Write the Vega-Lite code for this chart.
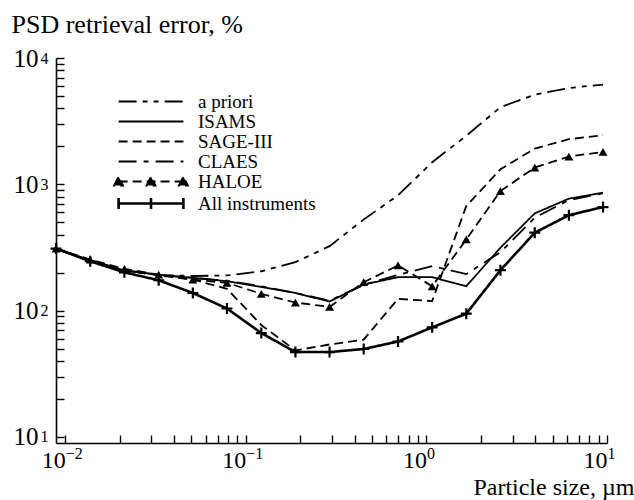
{
  "$schema": "https://vega.github.io/schema/vega-lite/v6.json",
  "width": 551,
  "height": 385,
  "autosize": "none",
  "padding": {"left": 56, "top": 58, "right": 27, "bottom": 57},
  "background": "white",
  "config": {
    "view": {"stroke": null},
    "font": "Liberation Serif",
    "axis": {
      "grid": false,
      "domainColor": "black",
      "domainWidth": 1.6,
      "tickColor": "black",
      "tickWidth": 1.4,
      "tickSize": -8,
      "labelFont": "Liberation Serif",
      "labelFontSize": 25,
      "labelColor": "black",
      "labelFlush": false,
      "labelOverlap": false,
      "titleFont": "Liberation Serif",
      "titleFontSize": 26,
      "titleFontWeight": "normal",
      "titleColor": "black"
    }
  },
  "resolve": {"axis": {"x": "independent", "y": "independent"}},
  "data": {
    "values": [
      {"series": "a priori", "x": 0.00891, "y": 310},
      {"series": "a priori", "x": 0.01377, "y": 250},
      {"series": "a priori", "x": 0.02128, "y": 210},
      {"series": "a priori", "x": 0.03296, "y": 192},
      {"series": "a priori", "x": 0.05093, "y": 188},
      {"series": "a priori", "x": 0.0787, "y": 190},
      {"series": "a priori", "x": 0.1219, "y": 205},
      {"series": "a priori", "x": 0.1884, "y": 242},
      {"series": "a priori", "x": 0.2911, "y": 324},
      {"series": "a priori", "x": 0.4498, "y": 527},
      {"series": "a priori", "x": 0.6966, "y": 818},
      {"series": "a priori", "x": 1.0765, "y": 1496},
      {"series": "a priori", "x": 1.663, "y": 2421},
      {"series": "a priori", "x": 2.57, "y": 4082},
      {"series": "a priori", "x": 3.981, "y": 5128},
      {"series": "a priori", "x": 6.152, "y": 5781},
      {"series": "a priori", "x": 9.506, "y": 6166},
      {"series": "ISAMS", "x": 0.00891, "y": 310},
      {"series": "ISAMS", "x": 0.01377, "y": 248},
      {"series": "ISAMS", "x": 0.02128, "y": 208},
      {"series": "ISAMS", "x": 0.03296, "y": 192},
      {"series": "ISAMS", "x": 0.05093, "y": 182},
      {"series": "ISAMS", "x": 0.0787, "y": 171},
      {"series": "ISAMS", "x": 0.1219, "y": 154},
      {"series": "ISAMS", "x": 0.1884, "y": 138},
      {"series": "ISAMS", "x": 0.2911, "y": 118},
      {"series": "ISAMS", "x": 0.4498, "y": 161},
      {"series": "ISAMS", "x": 0.6966, "y": 184},
      {"series": "ISAMS", "x": 1.0765, "y": 184},
      {"series": "ISAMS", "x": 1.663, "y": 156},
      {"series": "ISAMS", "x": 2.57, "y": 315},
      {"series": "ISAMS", "x": 3.981, "y": 589},
      {"series": "ISAMS", "x": 6.152, "y": 770},
      {"series": "ISAMS", "x": 9.506, "y": 859},
      {"series": "SAGE-III", "x": 0.00891, "y": 310},
      {"series": "SAGE-III", "x": 0.01377, "y": 250},
      {"series": "SAGE-III", "x": 0.02128, "y": 208},
      {"series": "SAGE-III", "x": 0.03296, "y": 190},
      {"series": "SAGE-III", "x": 0.05093, "y": 176},
      {"series": "SAGE-III", "x": 0.0787, "y": 149},
      {"series": "SAGE-III", "x": 0.1219, "y": 77},
      {"series": "SAGE-III", "x": 0.1884, "y": 48.4},
      {"series": "SAGE-III", "x": 0.2911, "y": 54},
      {"series": "SAGE-III", "x": 0.4498, "y": 59},
      {"series": "SAGE-III", "x": 0.6966, "y": 124},
      {"series": "SAGE-III", "x": 1.0765, "y": 119},
      {"series": "SAGE-III", "x": 1.663, "y": 673},
      {"series": "SAGE-III", "x": 2.57, "y": 1315},
      {"series": "SAGE-III", "x": 3.981, "y": 1919},
      {"series": "SAGE-III", "x": 6.152, "y": 2276},
      {"series": "SAGE-III", "x": 9.506, "y": 2449},
      {"series": "CLAES", "x": 0.00891, "y": 310},
      {"series": "CLAES", "x": 0.01377, "y": 248},
      {"series": "CLAES", "x": 0.02128, "y": 208},
      {"series": "CLAES", "x": 0.03296, "y": 192},
      {"series": "CLAES", "x": 0.05093, "y": 182},
      {"series": "CLAES", "x": 0.0787, "y": 172},
      {"series": "CLAES", "x": 0.1219, "y": 156},
      {"series": "CLAES", "x": 0.1884, "y": 138},
      {"series": "CLAES", "x": 0.2911, "y": 120},
      {"series": "CLAES", "x": 0.4498, "y": 160},
      {"series": "CLAES", "x": 0.6966, "y": 192},
      {"series": "CLAES", "x": 1.0765, "y": 225},
      {"series": "CLAES", "x": 1.663, "y": 195},
      {"series": "CLAES", "x": 2.57, "y": 290},
      {"series": "CLAES", "x": 3.981, "y": 545},
      {"series": "CLAES", "x": 6.152, "y": 750},
      {"series": "CLAES", "x": 9.506, "y": 850},
      {"series": "HALOE", "x": 0.00891, "y": 310},
      {"series": "HALOE", "x": 0.01377, "y": 254},
      {"series": "HALOE", "x": 0.02128, "y": 214},
      {"series": "HALOE", "x": 0.03296, "y": 193},
      {"series": "HALOE", "x": 0.05093, "y": 176},
      {"series": "HALOE", "x": 0.0787, "y": 166},
      {"series": "HALOE", "x": 0.1219, "y": 136},
      {"series": "HALOE", "x": 0.1884, "y": 116},
      {"series": "HALOE", "x": 0.2911, "y": 107},
      {"series": "HALOE", "x": 0.4498, "y": 168},
      {"series": "HALOE", "x": 0.6966, "y": 228},
      {"series": "HALOE", "x": 1.0765, "y": 156},
      {"series": "HALOE", "x": 1.663, "y": 366},
      {"series": "HALOE", "x": 2.57, "y": 885},
      {"series": "HALOE", "x": 3.981, "y": 1358},
      {"series": "HALOE", "x": 6.152, "y": 1660},
      {"series": "HALOE", "x": 9.506, "y": 1804},
      {"series": "All instruments", "x": 0.00891, "y": 310},
      {"series": "All instruments", "x": 0.01377, "y": 246},
      {"series": "All instruments", "x": 0.02128, "y": 201},
      {"series": "All instruments", "x": 0.03296, "y": 174},
      {"series": "All instruments", "x": 0.05093, "y": 138},
      {"series": "All instruments", "x": 0.0787, "y": 104},
      {"series": "All instruments", "x": 0.1219, "y": 66.5},
      {"series": "All instruments", "x": 0.1884, "y": 47},
      {"series": "All instruments", "x": 0.2911, "y": 47},
      {"series": "All instruments", "x": 0.4498, "y": 49.7},
      {"series": "All instruments", "x": 0.6966, "y": 57},
      {"series": "All instruments", "x": 1.0765, "y": 73.7},
      {"series": "All instruments", "x": 1.663, "y": 94.6},
      {"series": "All instruments", "x": 2.57, "y": 209},
      {"series": "All instruments", "x": 3.981, "y": 414},
      {"series": "All instruments", "x": 6.152, "y": 570},
      {"series": "All instruments", "x": 9.506, "y": 661}
    ]
  },
  "layer": [
    {
      "mark": {"type": "line", "color": "black"},
      "encoding": {
        "x": {
          "field": "x",
          "type": "quantitative",
          "scale": {"type": "log", "domain": [0.0089, 10], "nice": false},
          "axis": {
            "orient": "bottom",
            "title": "Particle size, µm",
            "titleFontSize": 24,
            "titleAngle": 0,
            "titleAlign": "right",
            "titleBaseline": "alphabetic",
            "titleX": 578,
            "titleY": 51,
            "labelPadding": 32,
            "labelBaseline": "alphabetic",
            "labelAlign": "right",
            "labelDx": 5,
            "labelFontSize": 24,
            "values": [0.01, 0.02, 0.03, 0.04, 0.05, 0.06, 0.07, 0.08, 0.09, 0.1, 0.2, 0.3, 0.4, 0.5, 0.6, 0.7, 0.8, 0.9, 1, 2, 3, 4, 5, 6, 7, 8, 9, 10],
            "labelExpr": "(datum.value == 0.01 || datum.value == 0.1 || datum.value == 1 || datum.value == 10) ? '10' : ''"
          }
        },
        "y": {
          "field": "y",
          "type": "quantitative",
          "scale": {"type": "log", "domain": [8.96, 10000], "nice": false},
          "axis": {
            "orient": "left",
            "title": "PSD retrieval error, %",
            "titleAngle": 0,
            "titleAlign": "left",
            "titleBaseline": "alphabetic",
            "titleX": -45,
            "titleY": -26,
            "labelPadding": 26,
            "labelBaseline": "middle",
            "labelAlign": "right",
            "values": [10, 20, 30, 40, 50, 60, 70, 80, 90, 100, 200, 300, 400, 500, 600, 700, 800, 900, 1000, 2000, 3000, 4000, 5000, 6000, 7000, 8000, 9000, 10000],
            "labelExpr": "(datum.value == 10 || datum.value == 100 || datum.value == 1000 || datum.value == 10000) ? '10' : ''"
          }
        },
        "detail": {"field": "series"},
        "strokeDash": {
          "field": "series",
          "type": "nominal",
          "scale": {
            "domain": ["a priori", "ISAMS", "SAGE-III", "CLAES", "HALOE", "All instruments"],
            "range": [[18, 6, 5, 6, 5, 6], [1, 0], [9, 5], [18, 7, 5, 7], [9, 5], [1, 0]]
          },
          "legend": {
            "title": null,
            "orient": "none",
            "legendX": 85.5,
            "legendY": 34,
            "padding": 0,
            "symbolSize": 324,
            "symbolStrokeColor": "black",
            "symbolStrokeWidth": 1.8,
            "symbolType": "M-3.6,0H3.6",
            "labelOffset": 37.5,
            "labelFont": "Liberation Serif",
            "labelFontSize": 19,
            "labelColor": "black",
            "labelLimit": 300,
            "rowPadding": 0,
            "encode": {
              "symbols": {
                "update": {
                  "shape": {"signal": "datum.value === 'HALOE' ? 'M-3.6,0H3.6M-4.1,0.45L-3.6,-0.55L-3.1,0.45ZM-0.5,0.45L0,-0.55L0.5,0.45ZM3.1,0.45L3.6,-0.55L4.1,0.45Z' : datum.value === 'All instruments' ? 'M-3.6,0H3.6M-3.6,-0.6V0.6M0,-0.6V0.6M3.6,-0.6V0.6' : 'M-3.6,0H3.6'"},
                  "fill": {"signal": "datum.value === 'HALOE' ? 'black' : 'transparent'"},
                  "stroke": {"value": "black"},
                  "strokeWidth": {"signal": "datum.value === 'All instruments' ? 2.6 : 1.8"}
                }
              }
            }
          }
        },
        "strokeWidth": {
          "condition": {"test": "datum.series === 'All instruments'", "value": 2.6},
          "value": 1.8
        }
      }
    },
    {
      "transform": [{"filter": "datum.series === 'HALOE'"}],
      "mark": {"type": "point", "shape": "triangle-up", "filled": true, "color": "black", "size": 80, "opacity": 1},
      "encoding": {
        "x": {
          "field": "x",
          "type": "quantitative",
          "scale": {"type": "log", "domain": [0.0089, 10], "nice": false},
          "axis": {
            "orient": "bottom",
            "title": null,
            "domain": false,
            "tickOpacity": 0,
            "labelPadding": 23,
            "labelBaseline": "alphabetic",
            "labelAlign": "left",
            "labelDx": 6,
            "labelFontSize": 16,
            "values": [0.01, 0.1, 1, 10],
            "labelExpr": "datum.value == 0.01 ? '−2' : datum.value == 0.1 ? '−1' : datum.value == 1 ? '0' : '1'"
          }
        },
        "y": {
          "field": "y",
          "type": "quantitative",
          "scale": {"type": "log", "domain": [8.96, 10000], "nice": false},
          "axis": {
            "orient": "left",
            "title": null,
            "domain": false,
            "tickOpacity": 0,
            "labelPadding": 24,
            "labelBaseline": "middle",
            "labelAlign": "left",
            "labelDy": -9,
            "labelFontSize": 16,
            "values": [10, 100, 1000, 10000],
            "labelExpr": "datum.value == 10 ? '1' : datum.value == 100 ? '2' : datum.value == 1000 ? '3' : '4'"
          }
        }
      }
    },
    {
      "transform": [{"filter": "datum.series === 'All instruments'"}],
      "mark": {"type": "point", "shape": "M-1,0H1M0,-1V1", "filled": false, "color": "black", "size": 120, "strokeWidth": 2.2, "opacity": 1},
      "encoding": {
        "x": {"field": "x", "type": "quantitative", "scale": {"type": "log", "domain": [0.0089, 10], "nice": false}, "axis": null},
        "y": {"field": "y", "type": "quantitative", "scale": {"type": "log", "domain": [8.96, 10000], "nice": false}, "axis": null}
      }
    }
  ]
}
